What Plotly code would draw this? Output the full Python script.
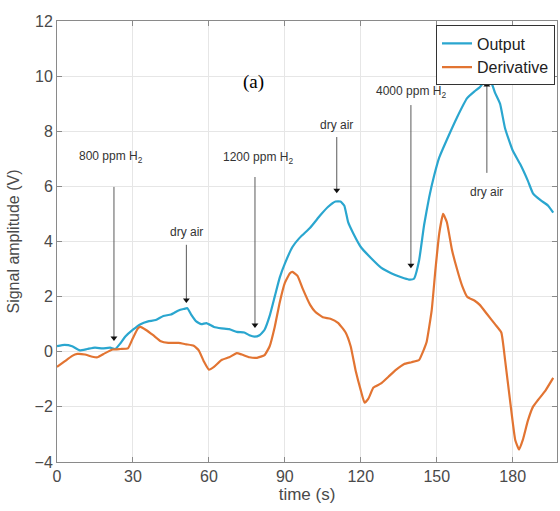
import plotly.graph_objects as go

# ---------------- data ----------------
out_t = [0, 3, 6, 9, 12, 15, 18, 21, 23, 25, 27, 30, 33, 36, 39, 42, 45, 48, 50, 51.5,
         53, 55, 57, 59, 62, 65, 68, 71, 74, 76, 78, 80, 82, 84, 86, 88, 90, 93, 96, 100,
         104, 107, 110, 112, 113.5, 115, 117, 120, 124, 128, 132, 136, 139, 141, 143, 145,
         147, 149, 151, 155, 158, 162, 165, 167, 169, 170, 171.5, 173, 175, 177, 180, 183,
         186, 188, 191, 194, 196]
out_v = [0.20, 0.25, 0.20, 0.05, 0.10, 0.15, 0.12, 0.15, 0.10, 0.30, 0.55, 0.80, 1.00, 1.10,
         1.15, 1.30, 1.35, 1.50, 1.55, 1.58, 1.35, 1.10, 1.00, 1.04, 0.90, 0.85, 0.82, 0.72,
         0.70, 0.60, 0.55, 0.60, 0.80, 1.30, 2.00, 2.70, 3.20, 3.80, 4.15, 4.50, 4.95, 5.25,
         5.45, 5.45, 5.30, 4.70, 4.30, 3.80, 3.40, 3.05, 2.85, 2.70, 2.62, 2.65, 3.30, 4.60,
         5.60, 6.40, 7.05, 7.90, 8.50, 9.20, 9.45, 9.60, 9.85, 10.0, 9.80, 9.40, 9.00, 8.10,
         7.30, 6.80, 6.20, 5.75, 5.50, 5.30, 5.05]

der_t = [0, 3, 6, 8, 11, 14, 16, 19, 22, 25, 28, 30, 32, 33, 35, 38, 41, 44, 48, 51, 54,
         56, 58, 60, 62, 65, 68, 71, 73, 76, 79, 82, 84, 86, 88, 90, 92, 93, 95, 97, 100,
         102, 105, 108, 111, 114, 116, 118, 120, 121.5, 123, 125, 128, 131, 134, 137, 140,
         143, 145, 146, 148, 149.5, 151, 152.5, 154, 156, 158, 160, 162, 165, 167, 170, 173,
         175.5, 177, 179, 181, 182.5, 184, 186, 188, 190, 193, 196]
der_v = [-0.55, -0.35, -0.15, -0.08, -0.10, -0.18, -0.20, -0.05, 0.08, 0.10, 0.12, 0.50,
         0.85, 0.90, 0.80, 0.60, 0.38, 0.32, 0.32, 0.27, 0.22, 0.05, -0.35, -0.65, -0.55,
         -0.30, -0.20, -0.05, -0.10, -0.20, -0.22, -0.12, 0.20, 0.90, 1.80, 2.50, 2.85, 2.90,
         2.75, 2.30, 1.70, 1.45, 1.25, 1.20, 1.05, 0.70, 0.20, -0.70, -1.40, -1.85, -1.70,
         -1.30, -1.15, -0.90, -0.65, -0.45, -0.38, -0.30, 0.10, 0.35, 1.50, 3.00, 4.30, 5.00,
         4.70, 3.70, 3.00, 2.40, 2.00, 1.85, 1.70, 1.35, 1.00, 0.70, -0.30, -1.80, -3.20,
         -3.55, -3.20, -2.50, -2.00, -1.75, -1.40, -0.95]

# event markers: label, label position, arrow x, arrow tail, arrow tip
ev_labels = ["800 ppm H<sub>2</sub>", "dry air", "1200 ppm H<sub>2</sub>", "dry air",
             "4000 ppm H<sub>2</sub>", "dry air"]
ev_label_t = [21.3, 51.1, 79.3, 110.5, 139.8, 169.8]
ev_label_v = [7.07, 4.35, 7.03, 8.22, 9.42, 5.80]
ev_t = [22.5, 51.1, 78.2, 110.5, 139.8, 169.8]
ev_tail = [5.98, 3.88, 6.34, 7.79, 8.95, 6.49]
ev_tip = [0.50, 1.88, 0.97, 5.86, 3.14, 9.68]

x_ticks = [0, 30, 60, 90, 120, 150, 180]
y_ticks = [-4, -2, 0, 2, 4, 6, 8, 10, 12]

# ---------------- figure ----------------
FONT = "Liberation Sans, Arial, sans-serif"
fig = go.Figure()
fig.add_trace(go.Scatter(x=out_t, y=out_v, mode="lines", name="Output",
                         line=dict(color="#2aa6cf", width=2.2, shape="spline", smoothing=0.4)))
fig.add_trace(go.Scatter(x=der_t, y=der_v, mode="lines", name="Derivative",
                         line=dict(color="#e27432", width=2.2, shape="spline", smoothing=0.4)))

# arrow shafts
shaft_x, shaft_y = [], []
for t, tail, tip in zip(ev_t, ev_tail, ev_tip):
    shaft_x += [t, t, None]
    shaft_y += [tail, tip, None]
fig.add_trace(go.Scatter(x=shaft_x, y=shaft_y, mode="lines", showlegend=False,
                         hoverinfo="skip", line=dict(color="#5a5a5a", width=1)))
# arrow heads
fig.add_trace(go.Scatter(x=ev_t, y=ev_tip, mode="markers", showlegend=False, hoverinfo="skip",
                         marker=dict(symbol=["triangle-down" if tp < tl else "triangle-up"
                                             for tl, tp in zip(ev_tail, ev_tip)],
                                     size=6, color="#111111", line=dict(width=0))))

annotations = []
for lab, lt, lv in zip(ev_labels, ev_label_t, ev_label_v):
    annotations.append(dict(x=lt, y=lv, xref="x", yref="y", text=lab, showarrow=False,
                            font=dict(family=FONT, size=12, color="#333333")))
annotations.append(dict(x=77.8, y=9.78, xref="x", yref="y", text="(a)", showarrow=False,
                        font=dict(family="Liberation Serif, Times New Roman, serif", size=19,
                                  color="#000000")))

axis_common = dict(showgrid=True, gridcolor="#e6e6e6", gridwidth=1, zeroline=False,
                   showline=True, linecolor="#8a8a8a", linewidth=1, mirror="ticks",
                   ticks="inside", ticklen=5, tickcolor="#8a8a8a", automargin=False,
                   tickfont=dict(family=FONT, size=16, color="#4a4a4a"))

fig.update_layout(
    width=560, height=511,
    margin=dict(l=57, r=3, t=21, b=49),
    paper_bgcolor="white", plot_bgcolor="white",
    font=dict(family=FONT),
    xaxis=dict(range=[0, 197.5], tickvals=x_ticks,
               title=dict(text="time (s)", font=dict(family=FONT, size=17, color="#4a4a4a"),
                          standoff=2),
               **axis_common),
    yaxis=dict(range=[-4, 12], tickvals=y_ticks,
               title=dict(text="Signal amplitude (V)",
                          font=dict(family=FONT, size=16, color="#4a4a4a"), standoff=10),
               **axis_common),
    legend=dict(x=0.996, y=0.99, xanchor="right", yanchor="top", bgcolor="white",
                bordercolor="#333333", borderwidth=1, itemwidth=30, tracegroupgap=0,
                font=dict(family=FONT, size=16, color="#222222")),
    annotations=annotations,
    showlegend=True,
)

fig.write_html("out.html", config={"displayModeBar": False},
               post_script="document.body.style.margin='0';")
